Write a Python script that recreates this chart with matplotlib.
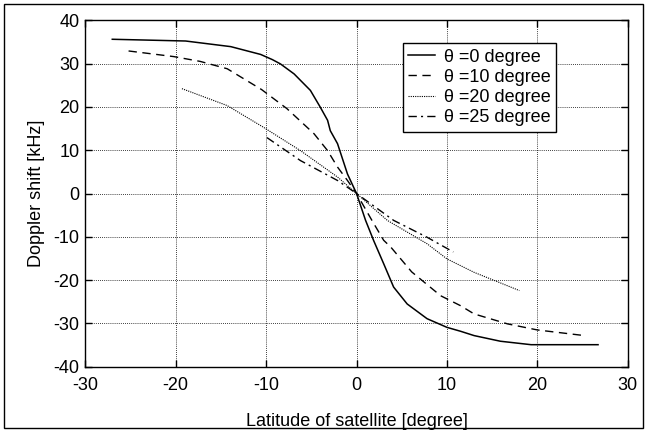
import matplotlib
matplotlib.use("Agg")
import matplotlib.pyplot as plt
from matplotlib.patches import Rectangle

plt.rcParams['font.family'] = ['Liberation Sans', 'DejaVu Sans']
plt.rcParams['axes.unicode_minus'] = False

# theta = 0 degree
x0 = [-27.0, -18.9, -13.9, -11.7, -10.6, -9.3, -8.4, -6.9, -5.1, -4.0, -3.2, -2.9,
      -2.1, -1.0, 0.0, 1.0, 1.9, 3.0, 4.1, 5.6, 7.8, 10.0, 11.5, 13.0, 15.9, 19.3, 26.7]
y0 = [35.6, 35.2, 33.9, 32.7, 32.1, 30.9, 29.9, 27.6, 23.8, 19.9, 16.9, 14.5,
      11.5, 4.5, 0.0, -6.2, -10.9, -16.2, -21.6, -25.5, -28.9, -30.9, -31.8, -32.8, -34.1, -34.9, -34.9]
# theta = 10 degree
x10 = [-25.2, -20.2, -17.3, -14.3, -10.5, -7.7, -4.7, -3.2, -2.1, -1.0, 0.0,
       1.7, 3.0, 3.8, 6.1, 9.3, 11.5, 13.0, 16.7, 20.0, 25.2]
y10 = [32.9, 31.6, 30.5, 28.8, 24.0, 19.6, 13.8, 9.9, 6.1, 3.0, 0.0,
       -6.2, -10.8, -12.4, -18.1, -23.6, -25.9, -27.8, -30.1, -31.5, -32.8]
# theta = 20 degree
x20 = [-19.3, -14.3, -10.3, -6.2, -2.1, 0.0, 3.4, 7.8, 10.0, 13.0, 18.0]
y20 = [24.2, 20.3, 15.3, 9.9, 3.8, 0.0, -6.2, -11.6, -15.1, -18.2, -22.4]
# theta = 25 degree
x25 = [-9.9, -6.2, -2.1, 0.0, 4.1, 7.8, 10.7]
y25 = [12.9, 7.6, 3.0, 0.0, -6.2, -10.1, -13.5]

labels = ["θ =0 degree", "θ =10 degree", "θ =20 degree", "θ =25 degree"]
xticks = [-30, -20, -10, 0, 10, 20, 30]
yticks = [-40, -30, -20, -10, 0, 10, 20, 30, 40]

fig = plt.figure(figsize=(6.5, 4.3), dpi=100)
ax = fig.add_axes([0.131, 0.147, 0.835, 0.806])

ax.plot(x0, y0, color='black', linestyle='-', linewidth=1.1, label=labels[0])
ax.plot(x10, y10, color='black', linestyle=(0, (6, 4)), linewidth=1.0, label=labels[1])
ax.plot(x20, y20, color='black', linestyle=(0, (1, 1)), linewidth=0.8, label=labels[2])
ax.plot(x25, y25, color='black', linestyle=(0, (6, 3, 1.5, 3)), linewidth=1.0, label=labels[3])

ax.set_xlim(-30, 30)
ax.set_ylim(-40, 40)
ax.set_xticks(xticks)
ax.set_yticks(yticks)
ax.tick_params(direction='in', top=True, right=True, labelsize=13, length=5, width=1.0)
ax.tick_params(axis='x', pad=7)
ax.tick_params(axis='y', pad=4)
ax.grid(True, color='black', linestyle=(0, (1, 1.5)), linewidth=0.6)
for s in ax.spines.values():
    s.set_linewidth(1.0)

ax.set_xlabel("Latitude of satellite [degree]", fontsize=13, labelpad=14)
ax.set_ylabel("Doppler shift [kHz]", fontsize=13, labelpad=6)

leg = ax.legend(loc='upper right', bbox_to_anchor=(0.867, 0.934), fontsize=13,
                frameon=True, fancybox=False, edgecolor='black', framealpha=1,
                handlelength=1.5, handletextpad=0.45, borderpad=0.3, labelspacing=0.18,
                borderaxespad=0)
leg.get_frame().set_linewidth(1.0)

fig.patches.append(Rectangle((0.0057, 0.0047), 0.983, 0.987, transform=fig.transFigure,
                             fill=False, edgecolor='black', linewidth=1.0))

fig.savefig("out.png", dpi=100)
